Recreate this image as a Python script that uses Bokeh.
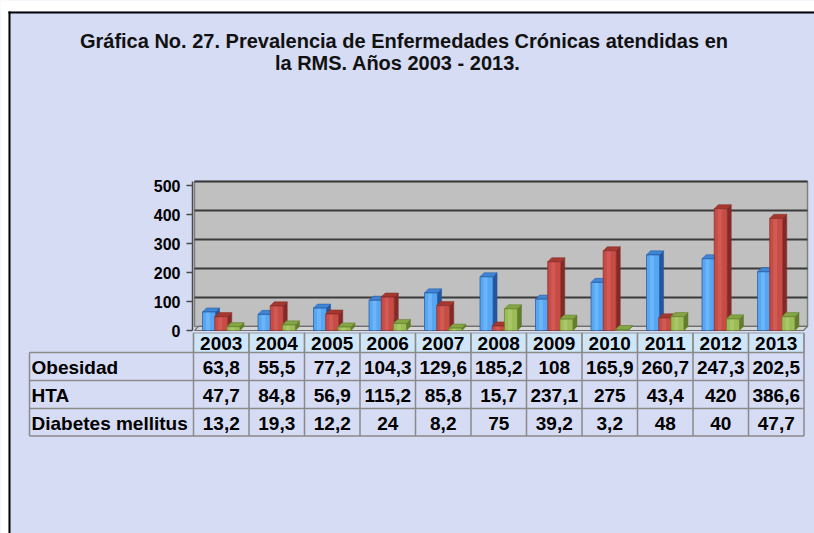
from bokeh.plotting import figure
from bokeh.models import Range1d, FixedTicker
from bokeh.embed import file_html
from bokeh.resources import INLINE
from bokeh.core.properties import value

# ---------------- data ----------------
years = ["2003", "2004", "2005", "2006", "2007", "2008", "2009", "2010", "2011", "2012", "2013"]
obesidad = [63.8, 55.5, 77.2, 104.3, 129.6, 185.2, 108, 165.9, 260.7, 247.3, 202.5]
hta = [47.7, 84.8, 56.9, 115.2, 85.8, 15.7, 237.1, 275, 43.4, 420, 386.6]
diabetes = [13.2, 19.3, 12.2, 24, 8.2, 75, 39.2, 3.2, 48, 40, 47.7]
series_names = ["Obesidad", "HTA", "Diabetes mellitus"]
y_ticks = [0, 100, 200, 300, 400, 500]
title_line1 = "Gráfica No. 27.  Prevalencia de Enfermedades Crónicas  atendidas en"
title_line2 = "la RMS.  Años 2003 - 2013."

# ---------------- style / layout ----------------
FONT = value("Liberation Sans")
BG = "#d6dcf4"
FRONT = ["#55a6f4", "#c84b45", "#9cbc58"]
SIDE = ["#25559a", "#842a26", "#627d2c"]
TOP = ["#3d86d8", "#a5382f", "#84a543"]
LIGHT = ["#9fd0ff", "#e07a72", "#c4dc8a"]

W, H = 814, 533
COL0 = 193.0   # canvas x of first year column's left edge
COLW = 55.5    # canvas px per year column
Y0_PAGE = 330.0
PXU = 0.29     # canvas px per value unit
DX = 4.0 / COLW
DY = 14.0
BW = 0.235
OFFS = [-0.22, 0.0, 0.22]


def px_to_x(px):
    return (px - COL0) / COLW - 0.5


def py_to_y(py):
    return (Y0_PAGE - py) / PXU


def fmt(v):
    if float(v).is_integer():
        return str(int(v))
    return ("%g" % v).replace(".", ",")


p = figure(width=W, height=H,
           x_range=Range1d(px_to_x(0), px_to_x(W)),
           y_range=Range1d(py_to_y(H), py_to_y(0)),
           min_border_left=0, min_border_right=0, min_border_top=0, min_border_bottom=0,
           x_axis_location=None, y_axis_location="left",
           output_backend="svg", toolbar_location=None,
           background_fill_color=BG, border_fill_color=BG)
p.outline_line_color = None
p.xgrid.visible = False
p.ygrid.visible = False

# white page margin and black left / top border (filled strips)
p.quad(left=[px_to_x(-10), px_to_x(-10)], right=[px_to_x(8), px_to_x(W + 10)],
       bottom=[py_to_y(H + 10), py_to_y(11)], top=[py_to_y(-10), py_to_y(-10)],
       fill_color="white", line_color=None)
p.quad(left=[px_to_x(8), px_to_x(8)], right=[px_to_x(10), px_to_x(W + 10)],
       bottom=[py_to_y(H + 10), py_to_y(13)], top=[py_to_y(11), py_to_y(11)],
       fill_color="black", line_color=None)

# title
p.text(x=[px_to_x(409)], y=[py_to_y(40)], text=[title_line1], text_align="center",
       text_baseline="middle", text_font=FONT, text_font_style="bold",
       text_font_size="20px", text_color="#111111")
p.text(x=[px_to_x(400)], y=[py_to_y(62)], text=[title_line2], text_align="center",
       text_baseline="middle", text_font=FONT, text_font_style="bold",
       text_font_size="20px", text_color="#111111")

# y axis placed at the chart's left edge
ya = p.yaxis[0]
ya.fixed_location = px_to_x(192)
ya.ticker = FixedTicker(ticks=y_ticks)
ya.bounds = (0, 500 + DY)
ya.major_label_text_font = "Liberation Sans"
ya.major_label_text_font_style = "bold"
ya.major_label_text_font_size = "16px"
ya.major_label_text_color = "black"
ya.axis_line_color = "#4a4a4a"
ya.axis_line_width = 1.5
ya.major_tick_line_color = "#4a4a4a"
ya.major_tick_line_width = 1.5
ya.major_tick_out = 6
ya.major_tick_in = 0
ya.minor_tick_out = 0
ya.minor_tick_in = 0
ya.major_label_standoff = 6

xl = px_to_x(194)
xr = px_to_x(807)
# back wall
p.quad(left=[xl], right=[xr], bottom=[DY], top=[500 + DY],
       fill_color="#c0c0c0", line_color="#7f7f7f", line_width=1.5)
# floor
p.patch(x=[xl, xr - DX, xr, xl + DX], y=[0, 0, DY, DY],
        fill_color="#d4d4d4", line_color="#6e6e6e", line_width=1.2)
# gridlines on the wall
for tk in y_ticks[1:]:
    p.segment(x0=[xl], x1=[xr], y0=[tk + DY], y1=[tk + DY], line_color="#3a3a3a", line_width=2)

# 3-D columns
for k, vals in enumerate([obesidad, hta, diabetes]):
    xs = [i + OFFS[k] for i in range(len(years))]
    side_x = [[x + BW / 2, x + BW / 2 + DX, x + BW / 2 + DX, x + BW / 2] for x in xs]
    side_y = [[0, DY, v + DY, v] for v in vals]
    top_x = [[x - BW / 2, x - BW / 2 + DX, x + BW / 2 + DX, x + BW / 2] for x in xs]
    top_y = [[v, v + DY, v + DY, v] for v in vals]
    p.patches(xs=side_x, ys=side_y, fill_color=SIDE[k], line_color=SIDE[k], line_width=0.5)
    p.patches(xs=top_x, ys=top_y, fill_color=TOP[k], line_color=SIDE[k], line_width=0.5)
    p.vbar(x=xs, top=vals, bottom=0, width=BW, fill_color=FRONT[k], line_color=SIDE[k], line_width=0.7)
    p.vbar(x=[x - BW * 0.08 for x in xs], top=[max(v - 2, 0) for v in vals], bottom=0,
           width=BW * 0.3, fill_color=LIGHT[k], fill_alpha=0.35, line_color=None)

# ---------------- data table ----------------
n = len(years)
row_edges = [py_to_y(332.5), py_to_y(352), py_to_y(380), py_to_y(408), py_to_y(435.5)]
lab_left = px_to_x(29)
p.quad(left=[i - 0.5 for i in range(n)], right=[i + 0.5 for i in range(n)],
       top=[row_edges[0]] * n, bottom=[row_edges[1]] * n,
       fill_color="#cfe6f9", line_color="#9a9a9a", line_width=1.2)
p.text(x=list(range(n)), y=[(row_edges[0] + row_edges[1]) / 2 - 3] * n, text=years,
       text_align="center", text_baseline="middle", text_font=FONT, text_font_style="bold",
       text_font_size="19px", text_color="black")
GC = "#8a8a8a"
for yy in row_edges[1:]:
    p.segment(x0=[lab_left], x1=[n - 0.5], y0=[yy], y1=[yy], line_color=GC, line_width=1.5)
p.segment(x0=[lab_left], x1=[lab_left], y0=[row_edges[1]], y1=[row_edges[-1]], line_color=GC, line_width=1.5)
for i in range(n + 1):
    p.segment(x0=[i - 0.5], x1=[i - 0.5], y0=[row_edges[0]], y1=[row_edges[-1]], line_color=GC, line_width=1.5)
for r, (name, vals) in enumerate(zip(series_names, [obesidad, hta, diabetes])):
    yc = (row_edges[r + 1] + row_edges[r + 2]) / 2 - 3
    p.text(x=[px_to_x(31)], y=[yc], text=[name], text_align="left", text_baseline="middle",
           text_font=FONT, text_font_style="bold", text_font_size="19px", text_color="black")
    p.text(x=list(range(n)), y=[yc] * n, text=[fmt(v) for v in vals], text_align="center",
           text_baseline="middle", text_font=FONT, text_font_style="bold", text_font_size="19px",
           text_color="black")

open("out.html", "w").write(file_html(p, INLINE))
